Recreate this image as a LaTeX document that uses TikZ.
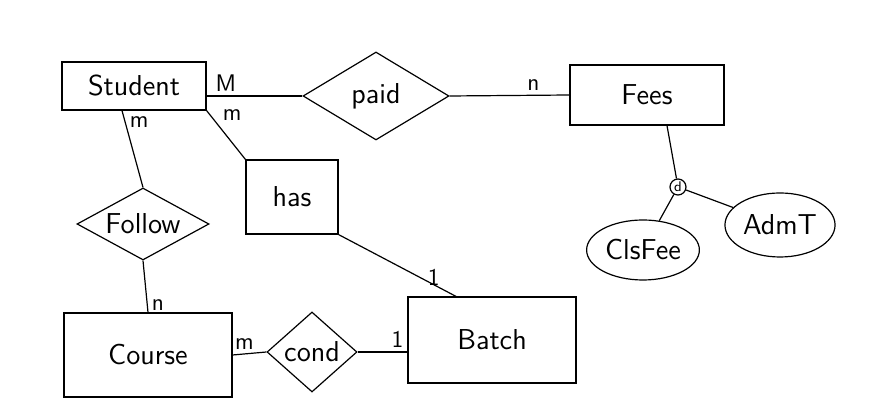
\documentclass[tikz,border=0pt]{standalone}
\usetikzlibrary{shapes.geometric}
\begin{document}
\begin{tikzpicture}[x=0.5pt,y=-0.5pt,
   every node/.style={font=\sffamily\Large},
   entity/.style={draw,rectangle,inner sep=1pt},
   relation/.style={draw,diamond,inner sep=0pt},
   attrib/.style={draw,ellipse,inner sep=1pt},
   card/.style={font=\sffamily\large,inner sep=2pt},
   every path/.style={line width=0.6pt}]
\useasboundingbox (0,0) rectangle (873,410);
\node[entity,minimum width=72pt,minimum height=24pt] (stu) at (134,86) {Student};
\node[relation,minimum width=73pt,minimum height=44pt,label=center:paid] (paid) at (376,96) {};
\node[entity,minimum width=77pt,minimum height=30pt] (fee) at (647,95) {Fees};
\node[circle,draw,inner sep=0pt,minimum size=8pt,font=\sffamily\scriptsize] (dis) at (678,187) {d};
\node[attrib,minimum width=50pt,minimum height=30pt] (cls) at (643,250) {ClsFee};
\node[attrib,minimum width=52pt,minimum height=32pt] (adm) at (780,225) {AdmT};
\node[entity,minimum width=46pt,minimum height=37pt] (has) at (292,197) {has};
\node[relation,minimum width=66pt,minimum height=36pt,label=center:Follow] (fol) at (143,224) {};
\node[entity,minimum width=84pt,minimum height=42pt] (crs) at (148,355) {Course};
\node[relation,minimum width=45pt,minimum height=40pt,label=center:cond] (cond) at (312,352) {};
\node[entity,minimum width=84pt,minimum height=43pt] (bat) at (492,340) {Batch};
\draw (paid.west -| stu.east) -- (paid.west) node[card,pos=0.2,above] {M};
\draw (paid.east) -- (fee.west) node[card,pos=0.7,above] {n};
\draw ([xshift=10pt]fee.south) -- (dis);
\draw (dis) -- (cls);
\draw (dis) -- (adm);
\draw ([xshift=-6pt]stu.south) -- (fol.north) node[card,pos=0.15,right] {m};
\draw (fol.south) -- (crs.north) node[card,pos=0.85,right] {n};
\draw (stu.south east) -- (has.north west) node[card,pos=0.3,above right] {m};
\draw (has.south east) -- ([xshift=-18pt]bat.north) node[card,pos=0.9,above left] {1};
\draw (crs.east) -- (cond.west) node[card,pos=0.35,above] {m};
\draw (cond.east) -- (cond.east -| bat.west) node[card,pos=0.8,above] {1};
\end{tikzpicture}
\end{document}
